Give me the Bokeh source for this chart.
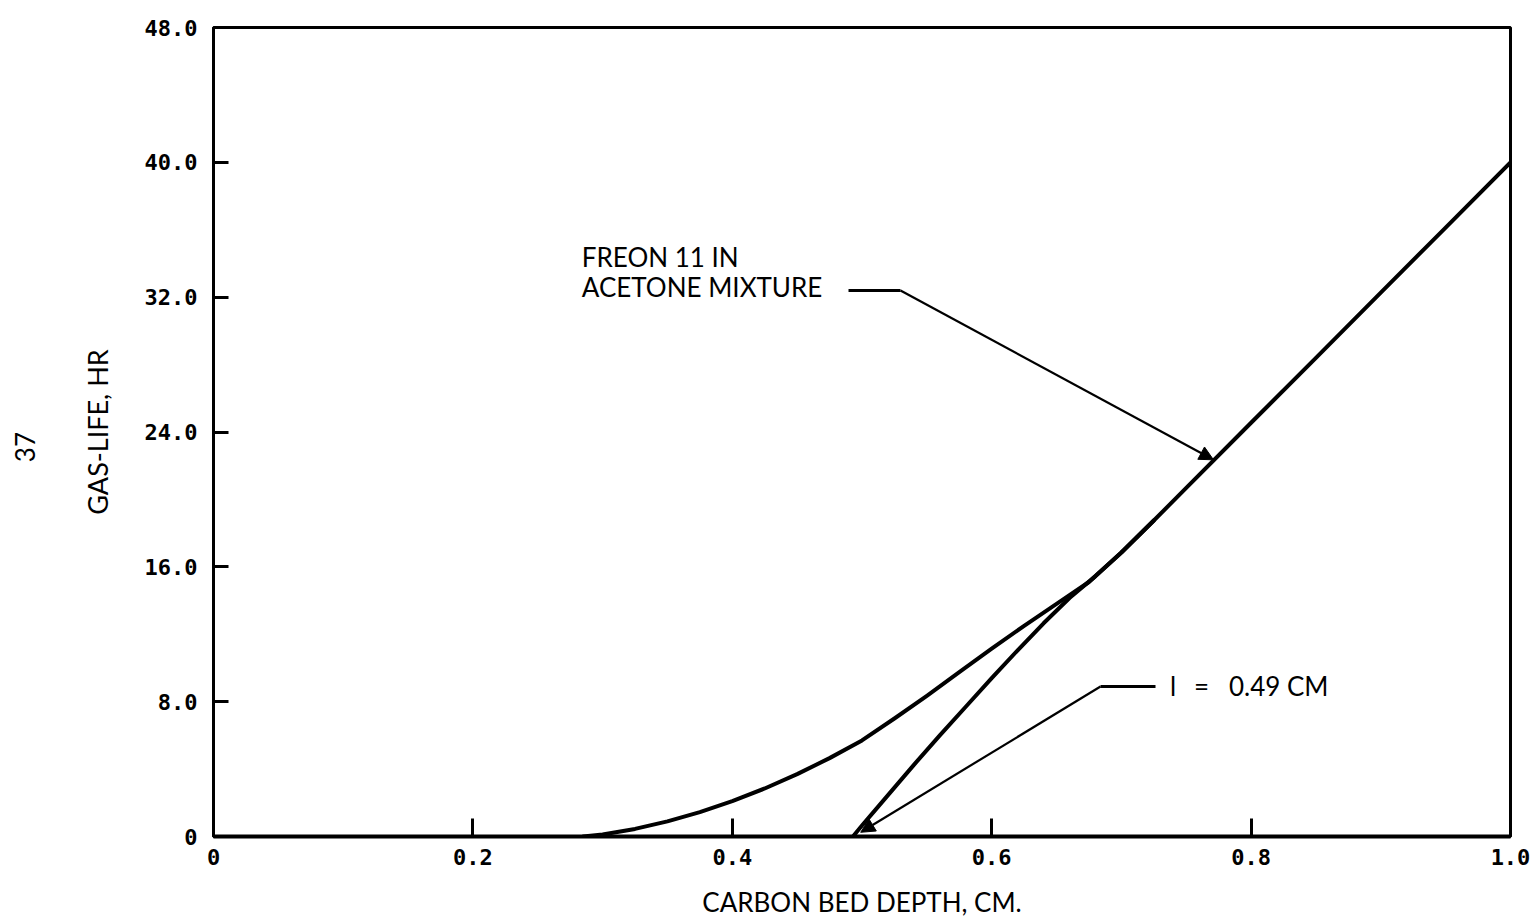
import math

from bokeh.plotting import figure
from bokeh.models import Range1d, FixedTicker, Label, Arrow, NormalHead, LinearAxis
from bokeh.embed import file_html
from bokeh.resources import INLINE

# Gas-life of the carbon bed versus bed depth (Freon 11 in acetone mixture)
outer_depth = [0.285, 0.30, 0.325, 0.35, 0.375, 0.40, 0.425, 0.45, 0.475, 0.50,
               0.525, 0.55, 0.575, 0.60, 0.625, 0.65, 0.675, 0.70, 0.725,
               0.75, 0.80, 0.85, 0.90, 0.95, 1.00]
outer_life = [0.0, 0.12, 0.45, 0.9, 1.45, 2.1, 2.85, 3.7, 4.65, 5.7,
              7.0, 8.35, 9.75, 11.15, 12.5, 13.8, 15.1, 16.85, 18.75,
              20.68, 24.55, 28.4, 32.27, 36.13, 40.0]

# Curve starting at the critical bed depth l = 0.49 cm
inner_depth = [0.493, 0.50, 0.51, 0.525, 0.54, 0.56, 0.58, 0.60, 0.62,
               0.64, 0.66, 0.68, 0.70, 0.725]
inner_life = [0.0, 0.65, 1.55, 2.9, 4.25, 6.0, 7.7, 9.4, 11.05,
              12.65, 14.15, 15.45, 16.85, 18.75]

x_ticks = [0, 0.2, 0.4, 0.6, 0.8, 1.0]
x_tick_labels = ["0", "0.2", "0.4", "0.6", "0.8", "1.0"]
y_ticks = [0, 8, 16, 24, 32, 40, 48]
y_tick_labels = ["0", "8.0", "16.0", "24.0", "32.0", "40.0", "48.0"]

TICK_FONT = "DejaVu Sans Mono"
TEXT_FONT = "Lato"

p = figure(width=1537, height=920, output_backend="svg", toolbar_location=None,
           x_range=Range1d(0, 1.0), y_range=Range1d(0, 48))
p.min_border_left = 213
p.min_border_right = 27
p.min_border_top = 27
p.min_border_bottom = 84
p.background_fill_color = "white"
p.border_fill_color = "white"
p.outline_line_color = "black"
p.outline_line_width = 3
p.grid.visible = False

p.xaxis.ticker = FixedTicker(ticks=x_ticks)
p.yaxis.ticker = FixedTicker(ticks=y_ticks)
p.xaxis.major_label_overrides = dict(zip(x_ticks, x_tick_labels))
p.yaxis.major_label_overrides = dict(zip(y_ticks, y_tick_labels))

for ax in (p.xaxis, p.yaxis):
    ax.axis_line_width = 3
    ax.axis_line_color = "black"
    ax.major_tick_line_width = 3
    ax.major_tick_line_color = "black"
    ax.major_tick_out = 0
    ax.minor_tick_line_color = None
    ax.major_label_text_font = TICK_FONT
    ax.major_label_text_font_size = "22px"
    ax.major_label_text_font_style = "bold"
    ax.major_label_text_color = "black"
    ax.axis_label_text_font = TEXT_FONT
    ax.axis_label_text_font_style = "normal"
    ax.axis_label_text_color = "black"

p.xaxis.axis_line_width = 4
p.xaxis.major_tick_in = 18
p.yaxis.major_tick_in = 15
p.xaxis.major_label_standoff = 12
p.yaxis.major_label_standoff = 16
p.xaxis.axis_label = "CARBON BED DEPTH, CM."
p.yaxis.axis_label = "GAS-LIFE, HR"
p.xaxis.axis_label_text_font_size = "26px"
p.yaxis.axis_label_text_font_size = "27px"
p.xaxis.axis_label_standoff = 18
p.yaxis.axis_label_standoff = 28

# Page number printed sideways (reading downward) in the left margin
page_axis = LinearAxis(ticker=FixedTicker(ticks=[]), axis_label="37",
                       axis_line_color=None, major_tick_line_color=None,
                       minor_tick_line_color=None, major_label_text_font_size="0px",
                       axis_label_orientation=math.pi / 2,
                       axis_label_standoff=53, axis_label_text_font=TEXT_FONT,
                       axis_label_text_font_size="26px",
                       axis_label_text_font_style="normal",
                       axis_label_text_color="black")
p.add_layout(page_axis, "left")

p.line(outer_depth, outer_life, line_color="black", line_width=4,
       line_join="round", line_cap="round")
p.line(inner_depth, inner_life, line_color="black", line_width=4,
       line_join="round", line_cap="round")

# Callout for the mixture curve
p.line([0.4896, 0.5297], [32.4, 32.4], line_color="black", line_width=3)
p.add_layout(Arrow(end=NormalHead(size=14, fill_color="black", line_color="black"),
                   x_start=0.5297, y_start=32.4, x_end=0.771, y_end=22.35,
                   line_color="black", line_width=2.2))
p.add_layout(Label(x=0.284, y=34.36, text="FREON 11 IN",
                   text_font=TEXT_FONT, text_font_size="26px", text_color="black",
                   text_baseline="middle", text_align="left"))
p.add_layout(Label(x=0.284, y=32.58, text="ACETONE MIXTURE",
                   text_font=TEXT_FONT, text_font_size="26px", text_color="black",
                   text_baseline="middle", text_align="left"))

# Callout for the critical depth
p.line([0.6839, 0.7263], [8.9, 8.9], line_color="black", line_width=3)
p.add_layout(Arrow(end=NormalHead(size=14, fill_color="black", line_color="black"),
                   x_start=0.6839, y_start=8.9, x_end=0.499, y_end=0.25,
                   line_color="black", line_width=2.2))
p.add_layout(Label(x=0.7375, y=8.9, text="l",
                   text_font=TEXT_FONT, text_font_size="26px", text_color="black",
                   text_baseline="middle", text_align="left"))
p.add_layout(Label(x=0.7618, y=8.9, text="=",
                   text_font=TEXT_FONT, text_font_size="26px", text_color="black",
                   text_baseline="middle", text_align="center"))
p.add_layout(Label(x=0.7829, y=8.9, text="0.49 CM",
                   text_font=TEXT_FONT, text_font_size="26px", text_color="black",
                   text_baseline="middle", text_align="left"))

open("out.html", "w").write(file_html(p, INLINE))
